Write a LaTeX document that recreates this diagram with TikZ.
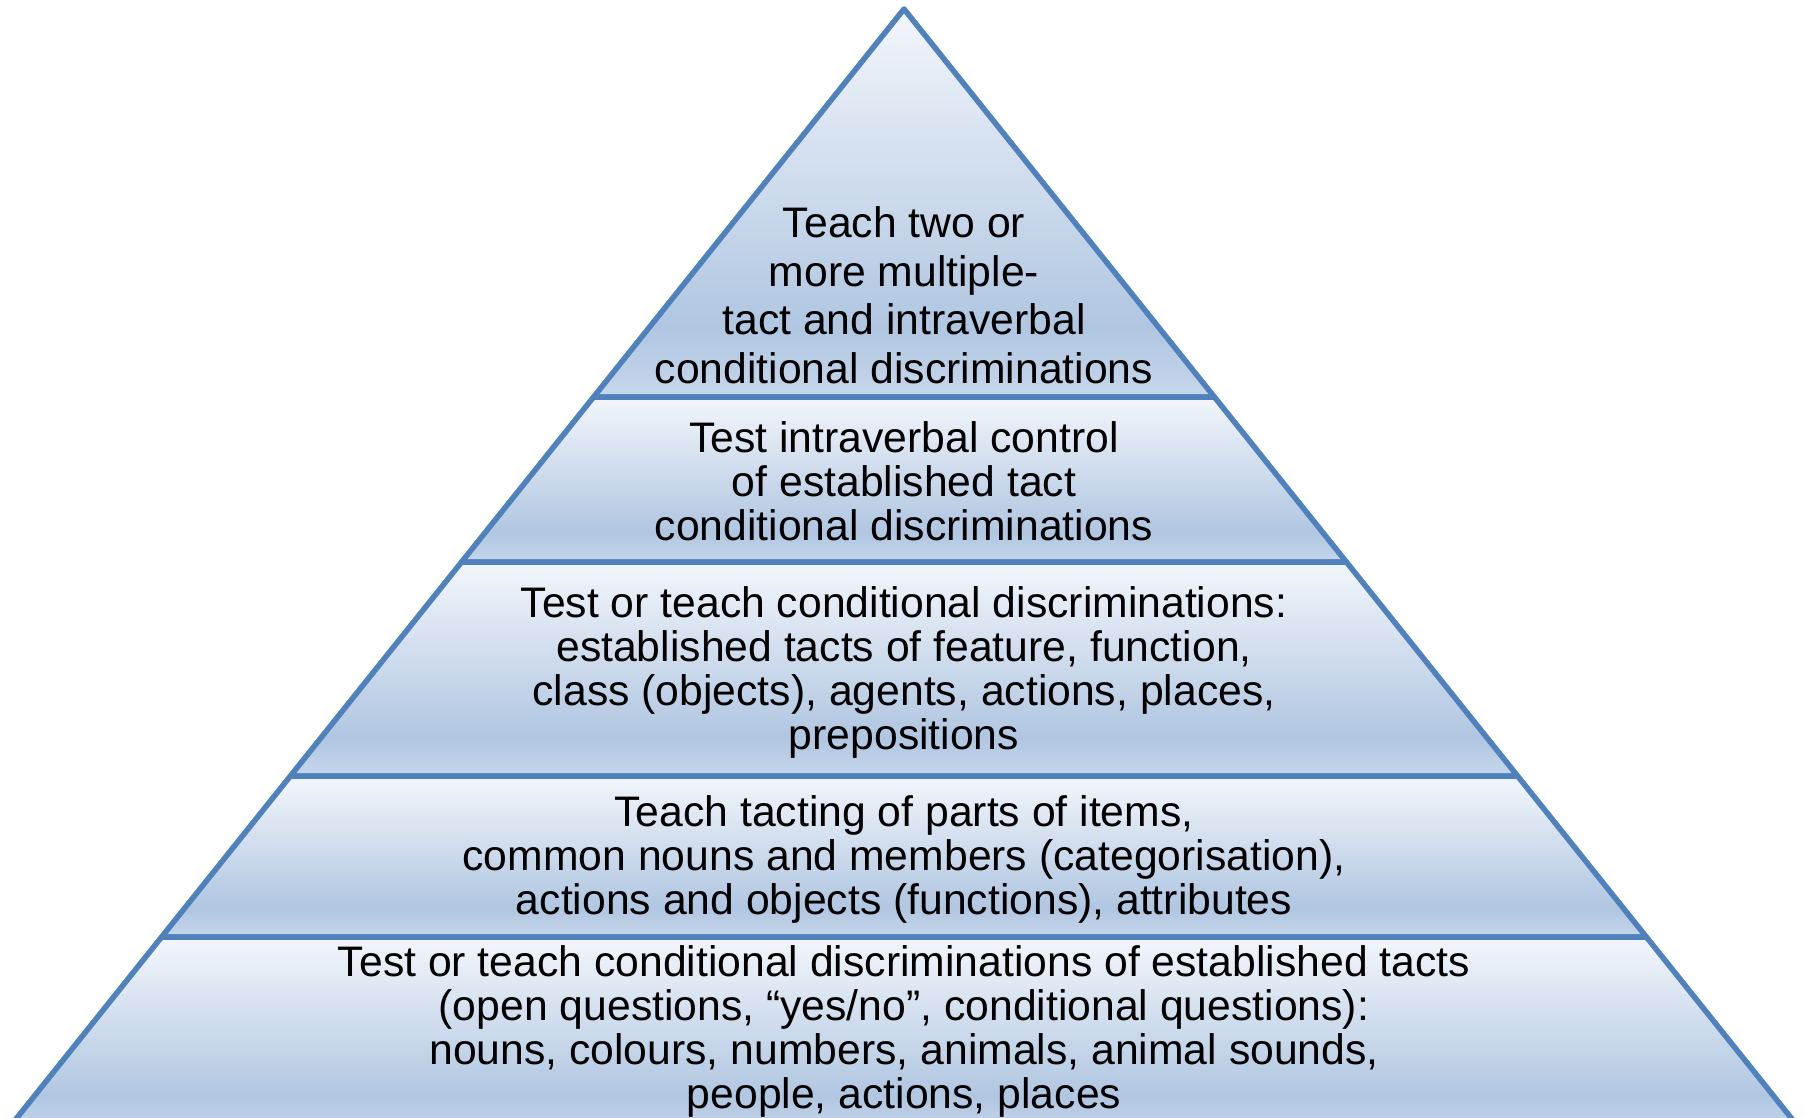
\documentclass[tikz,border=0pt]{standalone}
\usepackage{fontspec}
\setmainfont{Liberation Sans}
\usepackage{tikz}
\usepackage{xcolor}
\definecolor{bordo}{HTML}{4F81BD}
\definecolor{chiaro}{HTML}{F3F6FB}
\definecolor{medio}{HTML}{B0C6E1}
\definecolor{fondo}{HTML}{C6D6EB}
\pgfdeclareverticalshading{strato}{100bp}{color(0bp)=(fondo); color(25bp)=(fondo); color(34bp)=(medio); color(75bp)=(chiaro); color(100bp)=(chiaro)}

\begin{document}
\begin{tikzpicture}[x = 1pt, y = -1pt,
    livello/.style = {shading = strato, draw = bordo, line width = 5.5pt, line join = round},
    testo/.style = {align = center, inner sep = 0pt, font = \fontsize{42.7}{44}\selectfont}]
    % cornice
    \useasboundingbox (0,0) rectangle (1805,1118);
    \clip (0,0) rectangle (1805,1118);
    % strati della piramide
    \shade[livello] (904,9) -- (1214.4,397) -- (593.6,397) -- cycle;
    \shade[livello] (593.6,397) -- (1214.4,397) -- (1346.4,562) -- (461.6,562) -- cycle;
    \shade[livello] (461.6,562) -- (1346.4,562) -- (1517.6,776) -- (290.4,776) -- cycle;
    \shade[livello] (290.4,776) -- (1517.6,776) -- (1646.4,937) -- (161.6,937) -- cycle;
    \shade[livello] (161.6,937) -- (1646.4,937) -- (1802.4,1132) -- (5.6,1132) -- cycle;
    % testi
    \node[testo, font = \fontsize{42.7}{48.5}\selectfont] (cima) at (904,295)
        {Teach two or\\more multiple-\\tact and intraverbal\\conditional discriminations};
    \node[testo] (controllo) at (904,481)
        {Test intraverbal control\\of established tact\\conditional discriminations};
    \node[testo] (condizionali) at (904,672)
        {Test or teach conditional discriminations:\\established tacts of feature, function,\\class (objects), agents, actions, places,\\prepositions};
    \node[testo] (tacting) at (904,859)
        {Teach tacting of parts of items,\\common nouns and members (categorisation),\\actions and objects (functions), attributes};
    \node[testo] (base) at (904,1031)
        {Test or teach conditional discriminations of established tacts\\(open questions, “yes/no”, conditional questions):\\nouns, colours, numbers, animals, animal sounds,\\people, actions, places};
\end{tikzpicture}
\end{document}
